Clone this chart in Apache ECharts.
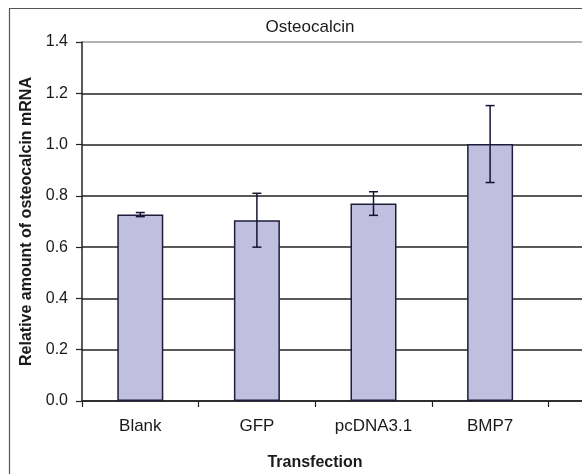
<!DOCTYPE html>
<html>
<head>
<meta charset="utf-8">
<script src="https://cdn.jsdelivr.net/npm/echarts@6/dist/echarts.min.js"></script>
<style>
    html, body { margin: 0; padding: 0; background: #fff; }
    #chart { width: 582px; height: 474px; }
</style>
</head>
<body>
<div id="chart"></div>
<script>
var categories = ['Blank', 'GFP', 'pcDNA3.1', 'BMP7'];
var meanValues = [0.727, 0.705, 0.770, 1.002];
var errorValues = [0.008, 0.105, 0.046, 0.150];
var yTicks = [0, 0.2, 0.4, 0.6, 0.8, 1.0, 1.2, 1.4];

var fontFamily = 'Liberation Sans, Arial, sans-serif';

var errorData = [];
for (var i = 0; i < categories.length; i++) {
    errorData.push([i, meanValues[i] - errorValues[i], meanValues[i] + errorValues[i]]);
}

// gridline colours: top line (1.4) is the grey plot border
var gridColors = [];
for (var j = 0; j < yTicks.length; j++) {
    gridColors.push(j == yTicks.length - 1 ? '#9a9a9a' : '#222');
}

var chart = echarts.init(document.getElementById('chart'));
var option = {
    animation: false,
    title: [{
        text: 'Osteocalcin',
        left: 305, top: 14, textAlign: 'center',
        textStyle: { fontFamily: fontFamily, fontSize: 17, fontWeight: 'normal', color: '#1a1a1a' }
    }, {
        text: 'Transfection',
        left: 310, top: 450, textAlign: 'center',
        textStyle: { fontFamily: fontFamily, fontSize: 16, fontWeight: 'bold', color: '#1a1a1a' }
    }],
    graphic: [{
        type: 'rect',
        shape: { x: 9.5, y: 8.5, width: 700, height: 600 },
        style: { fill: 'none', stroke: '#555', lineWidth: 1.2 },
        silent: true
    }],
    grid: { left: 82, top: 42, bottom: 73, width: 583, outerBoundsMode: 'none' },
    xAxis: {
        type: 'category',
        data: categories,
        max: 4,
        axisLine: { lineStyle: { color: '#222', width: 1.5 } },
        axisTick: { show: true, interval: 0, length: 6, lineStyle: { color: '#222', width: 1.2 } },
        axisLabel: { interval: 0, margin: 17, fontFamily: fontFamily, fontSize: 17, color: '#1a1a1a' },
        splitLine: { show: false }
    },
    yAxis: {
        type: 'value',
        min: 0, max: 1.4, interval: 0.2,
        name: 'Relative amount of osteocalcin mRNA',
        nameLocation: 'middle',
        nameGap: 46,
        nameTextStyle: { fontFamily: fontFamily, fontSize: 16, fontWeight: 'bold', color: '#1a1a1a' },
        axisLine: { show: true, lineStyle: { color: '#222', width: 1.5 } },
        axisTick: { show: true, length: 6, inside: false, lineStyle: { color: '#222', width: 1.2 } },
        axisLabel: {
            margin: 14, fontFamily: fontFamily, fontSize: 16, color: '#1a1a1a',
            formatter: function (v) { return v.toFixed(1); }
        },
        splitLine: { show: true, lineStyle: { color: gridColors, width: 1.5 } }
    },
    series: [{
        type: 'bar',
        data: meanValues,
        barWidth: 46,
        itemStyle: { color: '#c0bfe0', borderColor: '#1e1e3c', borderWidth: 1.5 },
        z: 2
    }, {
        type: 'custom',
        data: errorData,
        z: 3,
        renderItem: function (params, api) {
            var x = api.value(0);
            var lo = api.coord([x, api.value(1)]);
            var hi = api.coord([x, api.value(2)]);
            var cap = 4.5;
            var st = { stroke: '#141432', lineWidth: 1.5 };
            return {
                type: 'group',
                children: [
                    { type: 'line', shape: { x1: hi[0], y1: hi[1], x2: lo[0], y2: lo[1] }, style: st },
                    { type: 'line', shape: { x1: hi[0] - cap, y1: hi[1], x2: hi[0] + cap, y2: hi[1] }, style: st },
                    { type: 'line', shape: { x1: lo[0] - cap, y1: lo[1], x2: lo[0] + cap, y2: lo[1] }, style: st }
                ]
            };
        }
    }]
};
chart.setOption(option);
</script>
</body>
</html>
